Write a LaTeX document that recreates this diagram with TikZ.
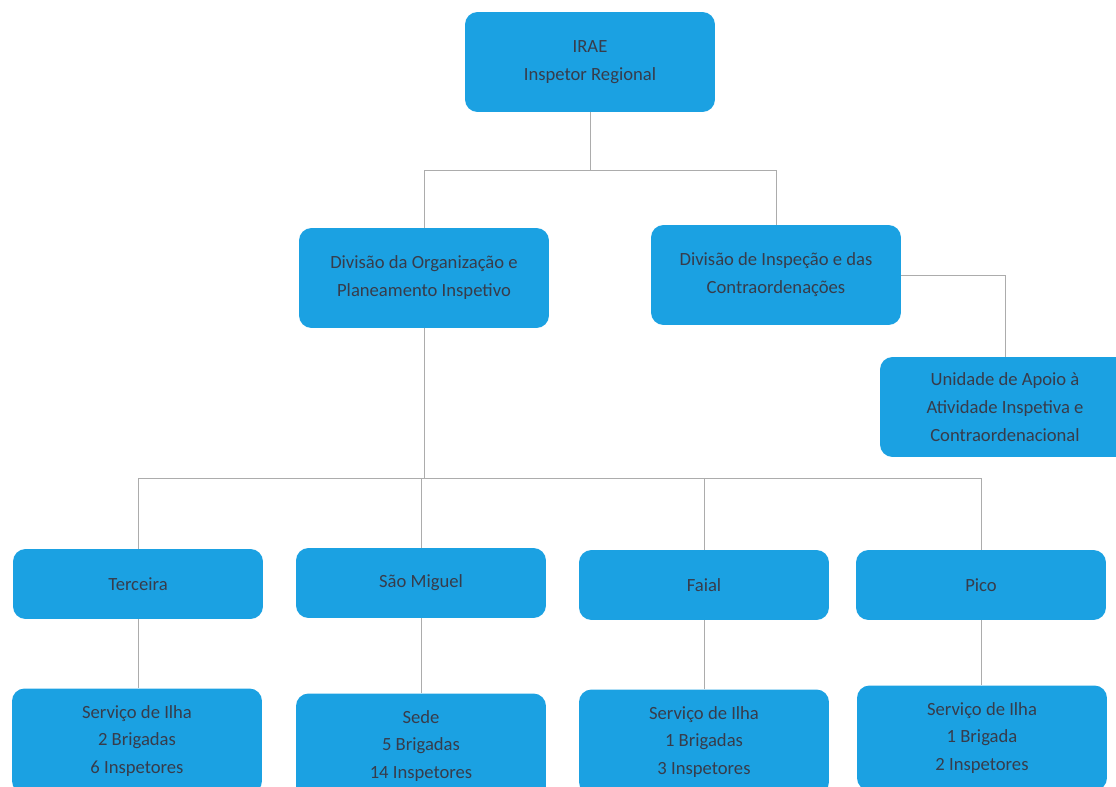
\documentclass[tikz,border=0pt]{standalone}
\usepackage{fontspec}
\setmainfont{Carlito}
\usepackage{tikz}
\definecolor{boxblue}{RGB}{27,161,226}
\definecolor{boxtext}{RGB}{55,60,75}

\begin{document}
\begin{tikzpicture}[
    x=0.02cm, y=-0.02cm,
    box/.style={rectangle, fill=boxblue, rounded corners=0.25cm, minimum width=5cm, minimum height=2cm, align=center, text=boxtext, font=\fontsize{10.6}{15.9}\selectfont},
    island/.style={box, minimum height=1.4cm},
    service/.style={box, minimum height=2.1cm},
    line/.style={draw=gray!65, line width=0.5pt}
]
    \clip (0,0) rectangle (1116,787);
    % Nodes
    \node[box] (irae) at (590, 62) {IRAE \\ Inspetor Regional};
    \node[box] (divorg) at (424, 278) {Divisão da Organização e \\ Planeamento Inspetivo};
    \node[box] (divinsp) at (776, 275) {Divisão de Inspeção e das \\ Contraordenações};
    \node[box] (unidade) at (1005, 407) {Unidade de Apoio à \\ Atividade Inspetiva e \\ Contraordenacional};

    \node[island] (terceira) at (138, 584) {Terceira};
    \node[island] (saomiguel) at (421, 583) {São Miguel};
    \node[island] (faial) at (704, 585) {Faial};
    \node[island] (pico) at (981, 585) {Pico};

    \node[service] (servterceira) at (137, 741) {Serviço de Ilha \\ 2 Brigadas \\ 6 Inspetores};
    \node[service] (sede) at (421, 746) {Sede \\ 5 Brigadas \\ 14 Inspetores};
    \node[service] (servfaial) at (704, 742) {Serviço de Ilha \\ 1 Brigadas \\ 3 Inspetores};
    \node[service] (servpico) at (982, 738) {Serviço de Ilha \\ 1 Brigada \\ 2 Inspetores};

    % Connectors
    \coordinate (topbar) at (590, 170);
    \coordinate (islandbar) at (424, 478);
    \draw[line] (irae) -- (topbar);
    \draw[line] (topbar) -| (divorg);
    \draw[line] (topbar) -| (divinsp);
    \draw[line] (divinsp) -| (unidade);
    \draw[line] (divorg) -- (islandbar);
    \draw[line] (islandbar) -| (terceira);
    \draw[line] (islandbar) -| (saomiguel);
    \draw[line] (islandbar) -| (faial);
    \draw[line] (islandbar) -| (pico);
    \draw[line] (terceira) -- (terceira |- servterceira.north);
    \draw[line] (saomiguel) -- (saomiguel |- sede.north);
    \draw[line] (faial) -- (faial |- servfaial.north);
    \draw[line] (pico) -- (pico |- servpico.north);
\end{tikzpicture}
\end{document}
